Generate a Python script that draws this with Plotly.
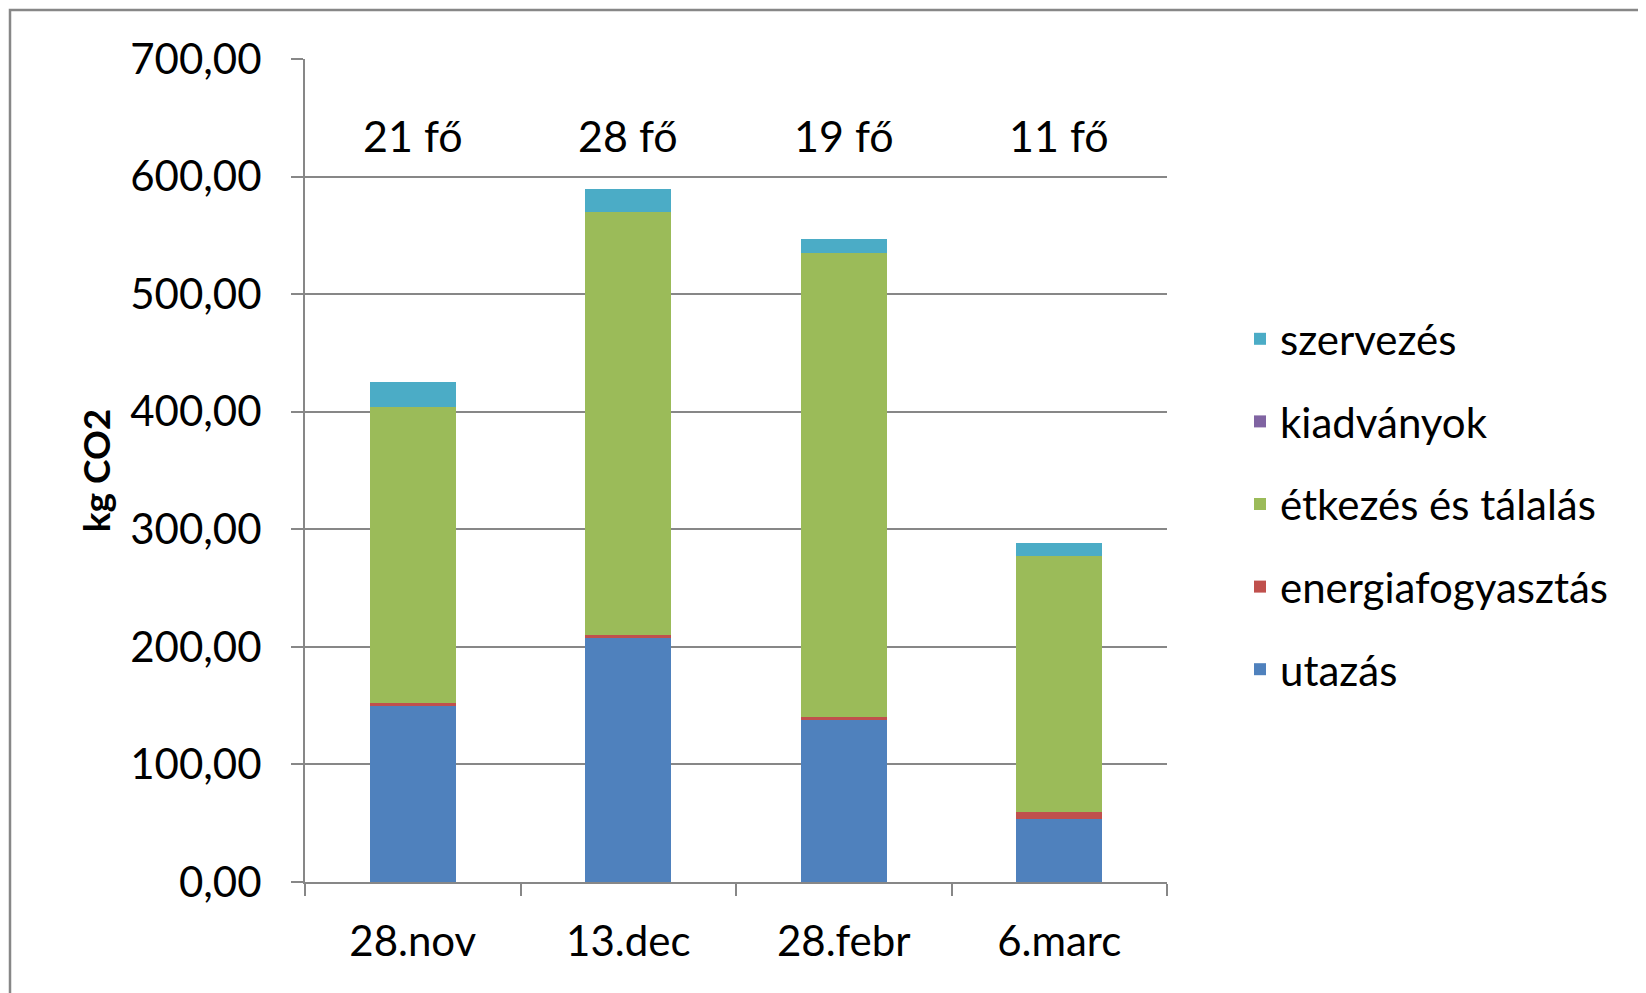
import plotly.graph_objects as go

categories = ["28.nov", "13.dec", "28.febr", "6.marc"]
participants = ["21 fő", "28 fő", "19 fő", "11 fő"]

utazas = [149.4, 207.6, 137.8, 53.8]
energia = [2.8, 2.3, 2.5, 5.6]
etkezes = [252.1, 359.8, 394.5, 217.6]
kiadvanyok = [0.0, 0.0, 0.0, 0.0]
szervezes = [20.6, 20.1, 11.8, 11.5]

series = [
    ("utazás", utazas, "#4F81BD"),
    ("energiafogyasztás", energia, "#C0504D"),
    ("étkezés és tálalás", etkezes, "#9BBB59"),
    ("kiadványok", kiadvanyok, "#8064A2"),
    ("szervezés", szervezes, "#4BACC6"),
]

FONT = "Lato, 'Open Sans', sans-serif"

fig = go.Figure()
n = len(series)
for i, (name, vals, color) in enumerate(series):
    fig.add_trace(go.Bar(
        x=categories, y=vals, name=name,
        marker=dict(color=color, line=dict(width=0)),
        legendgroup=f"g{i}", legendrank=n - i,
    ))

for cat, txt in zip(categories, participants):
    fig.add_annotation(x=cat, y=635, text=txt, showarrow=False,
                       font=dict(size=43, color="black", family=FONT),
                       xanchor="center", yanchor="middle")

W, H = 1646, 993
OFF = 8
L, T = 305 - OFF, 59 - OFF
pw, ph = 862, 823
R = W - L - pw
B = H - T - ph

fig.add_shape(type="rect", xref="paper", yref="paper",
              x0=(10 - OFF - L) / pw, x1=(W + 20 - L) / pw,
              y0=-(B + 20) / ph, y1=(ph + T - 10 + OFF) / ph,
              line=dict(color="#878787", width=2.5), fillcolor="rgba(0,0,0,0)",
              layer="below")

fig.update_layout(
    width=W, height=H,
    margin=dict(l=L, r=R, t=T, b=B, autoexpand=False),
    barmode="stack", bargap=0.6,
    plot_bgcolor="white", paper_bgcolor="white",
    separators=", ",
    font=dict(family=FONT, color="black", size=42),
    xaxis=dict(
        type="category", tickson="boundaries", ticks="outside", ticklen=12,
        tickwidth=2, tickcolor="#878787", showline=True, linecolor="#878787",
        linewidth=2, showgrid=False, tickfont=dict(size=42), ticklabelstandoff=22,
    ),
    yaxis=dict(
        range=[0, 700], dtick=100, tickformat=".2f", ticks="outside", ticklen=12,
        tickwidth=2, tickcolor="#878787", showline=True, linecolor="#878787",
        linewidth=2, gridcolor="#878787", gridwidth=2, zeroline=False,
        tickfont=dict(size=42), ticklabelstandoff=21,
        title=dict(text="<b>kg CO2</b>", font=dict(size=37), standoff=8),
    ),
    legend=dict(
        x=(1240 - OFF - L) / pw, y=(T + ph - 504 + OFF) / ph, xanchor="left", yanchor="middle",
        traceorder="grouped", tracegroupgap=25,
        font=dict(size=42), itemwidth=30, bgcolor="rgba(0,0,0,0)",
    ),
    showlegend=True,
)

fig.write_html("out.html")
